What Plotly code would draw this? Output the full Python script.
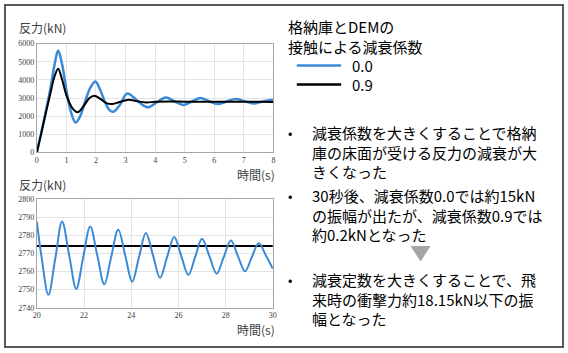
import plotly.graph_objects as go

# ---------------- data ----------------
# Top chart (0-8 s)
t_top_b = [0, 0.15, 0.3, 0.45, 0.6, 0.72, 0.85, 1.0, 1.15, 1.31, 1.48, 1.65, 1.82, 1.98, 2.13, 2.3, 2.45, 2.59,
           2.8, 3.06, 3.4, 3.75, 4.05, 4.36, 4.65, 4.95, 5.24, 5.53, 5.82, 6.11, 6.42, 6.72, 7.02, 7.32, 7.61, 7.92, 8.0]
v_top_b = [0, 1100, 2250, 3450, 4850, 5620, 4900, 3450, 2250, 1650, 2050, 2900, 3600, 3910, 3500, 2800, 2350, 2240,
           2600, 3250, 2850, 2490, 2760, 3030, 2820, 2620, 2810, 3000, 2830, 2670, 2810, 2940, 2820, 2700, 2800, 2885, 2880]

t_top_k = [0, 0.15, 0.3, 0.45, 0.6, 0.72, 0.85, 1.0, 1.2, 1.39, 1.6, 1.78, 1.94, 2.15, 2.35, 2.56, 2.8, 3.1,
           3.4, 3.7, 4.0, 4.5, 5.0, 5.5, 6.0, 6.5, 7.0, 7.5, 8.0]
v_top_k = [0, 1050, 2150, 3200, 4200, 4620, 4050, 3150, 2450, 2220, 2600, 3000, 3130, 2950, 2720, 2670, 2780, 2900,
           2820, 2760, 2790, 2810, 2800, 2800, 2800, 2790, 2790, 2790, 2780]

# Bottom chart (20-30 s)
t_bot_b = [20.0, 20.2, 20.49, 20.78, 21.07, 21.37, 21.67, 21.96, 22.26, 22.56, 22.86, 23.15, 23.45, 23.75, 24.04,
           24.33, 24.62, 24.92, 25.22, 25.52, 25.82, 26.12, 26.42, 26.71, 27.0, 27.31, 27.62, 27.92, 28.22, 28.52,
           28.82, 29.11, 29.4, 29.7, 30.0]
v_bot_b = [2787.5, 2768, 2747.2, 2767, 2787.5, 2769, 2750.4, 2767.5, 2784.8, 2769, 2752.9, 2768, 2783.0, 2768.5, 2754.3,
           2768, 2781.2, 2769, 2756.5, 2768, 2779.0, 2768.5, 2758.1, 2768, 2778.0, 2768.5, 2758.8, 2768, 2777.1, 2768.5,
           2760.1, 2768, 2775.5, 2769, 2761.5]

t_bot_k = [20.0, 22.0, 24.0, 26.0, 28.0, 30.0]
v_bot_k = [2774, 2774, 2774, 2774, 2774, 2774]

legend_title = ["格納庫とDEMの", "接触による減衰係数"]
legend_labels = ["0.0", "0.9"]
bullets1 = ["減衰係数を大きくすることで格納", "庫の床面が受ける反力の減衰が大", "きくなった"]
bullets2 = ["30秒後、減衰係数0.0では約15kN", "の振幅が出たが、減衰係数0.9では", "約0.2kNとなった"]
bullets3 = ["減衰定数を大きくすることで、飛", "来時の衝撃力約18.15kN以下の振", "幅となった"]

# ---------------- styling ----------------
W, H = 568, 353
BLUE = "#3B8AD8"
BLACK = "#000000"
JP = "Noto Sans CJK JP"
TICKFONT = dict(family="Liberation Serif", size=8, color="#404040")


def px(x):
    return x / W


def py(y):
    return 1 - y / H


fig = go.Figure()
fig.add_trace(go.Scatter(x=t_top_b, y=v_top_b, mode="lines", line=dict(color=BLUE, width=2.5, shape="spline"),
                         xaxis="x", yaxis="y", showlegend=False, name="0.0"))
fig.add_trace(go.Scatter(x=t_top_k, y=v_top_k, mode="lines", line=dict(color=BLACK, width=2, shape="spline"),
                         xaxis="x", yaxis="y", showlegend=False, name="0.9"))
fig.add_trace(go.Scatter(x=t_bot_k, y=v_bot_k, mode="lines", line=dict(color=BLACK, width=2),
                         xaxis="x2", yaxis="y2", showlegend=False, name="0.9"))
fig.add_trace(go.Scatter(x=t_bot_b, y=v_bot_b, mode="lines", line=dict(color=BLUE, width=2, shape="spline"),
                         xaxis="x2", yaxis="y2", showlegend=False, name="0.0"))

axis_common = dict(showgrid=True, gridcolor="#E3E3E3", gridwidth=1, showline=True, linecolor="#A6A6A6",
                   linewidth=1, mirror=True, zeroline=False, ticks="", tickfont=TICKFONT, fixedrange=True)

fig.update_layout(
    width=W, height=H, margin=dict(l=0, r=0, t=0, b=0),
    paper_bgcolor="white", plot_bgcolor="white",
    xaxis=dict(domain=[px(33.3), px(273.3)], range=[0, 8], dtick=1, anchor="y", **axis_common),
    yaxis=dict(domain=[py(152.3), py(40.7)], range=[0, 6000], dtick=1000, anchor="x", **axis_common),
    xaxis2=dict(domain=[px(33.3), px(272.7)], range=[20, 30], dtick=2, anchor="y2", **axis_common),
    yaxis2=dict(domain=[py(311.7), py(200)], range=[2740, 2800], dtick=10, anchor="x2", **axis_common),
)

ann = []
shapes = []
# axis titles
for y in (24, 185):
    ann.append(dict(x=px(13), y=py(y), xref="paper", yref="paper", text="反力(kN)", showarrow=False,
                    xanchor="left", yanchor="middle", font=dict(family=JP, size=12, color="#404040")))
for y in (175, 334):
    ann.append(dict(x=px(277), y=py(y), xref="paper", yref="paper", text="時間(s)", showarrow=False,
                    xanchor="right", yanchor="middle", font=dict(family=JP, size=12, color="#404040")))

# legend
ann.append(dict(x=px(287), y=py(33.5), xref="paper", yref="paper", text="<br>".join(legend_title),
                showarrow=False, align="left", xanchor="left", yanchor="middle", borderpad=0,
                font=dict(family=JP, size=15, color="#000000")))
for i, (lab, col) in enumerate(zip(legend_labels, [BLUE, BLACK])):
    yy = 63 + 19.5 * i
    shapes.append(dict(type="line", xref="paper", yref="paper", x0=px(297), x1=px(342), y0=py(yy), y1=py(yy),
                       line=dict(color=col, width=2.5)))
    ann.append(dict(x=px(352), y=py(yy), xref="paper", yref="paper", text=lab, showarrow=False, borderpad=0,
                    xanchor="left", yanchor="middle", font=dict(family=JP, size=15, color="#000000")))

# bullets
blocks = [(bullets1, 132), (bullets2, 197), (bullets3, 283)]
for lines, y0 in blocks:
    ann.append(dict(x=px(290), y=py(y0), xref="paper", yref="paper", text="•", showarrow=False, borderpad=0,
                    xanchor="center", yanchor="middle", font=dict(family=JP, size=13, color="#000000")))
    ann.append(dict(x=px(311), y=py(y0 + 19.5), xref="paper", yref="paper", text="<br>".join(lines),
                    showarrow=False, align="left", xanchor="left", yanchor="middle", borderpad=0,
                    font=dict(family=JP, size=15, color="#000000")))

# down triangle
shapes.append(dict(type="path", xref="paper", yref="paper",
                   path=f"M {px(412.3)} {py(248.3)} L {px(432.7)} {py(248.3)} L {px(422.5)} {py(264.3)} Z",
                   fillcolor="#A6A6A6", line=dict(width=0)))
# outer frame
shapes.append(dict(type="rect", xref="paper", yref="paper", x0=px(1), x1=px(567), y0=py(352), y1=py(1),
                   line=dict(color="#595959", width=2), fillcolor="rgba(0,0,0,0)"))

fig.update_layout(annotations=ann, shapes=shapes)
fig.write_html("out.html")
